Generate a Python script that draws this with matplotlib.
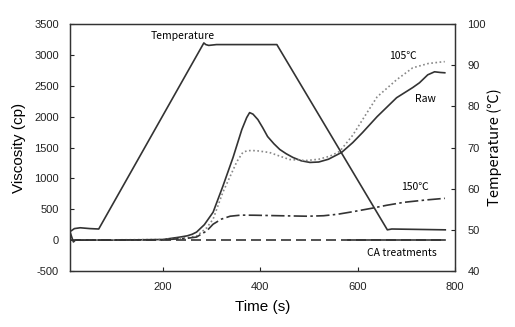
import numpy as np
import matplotlib
matplotlib.use("Agg")
import matplotlib.pyplot as plt

plt.rcParams['axes.unicode_minus'] = False

# values
temp_t = [12, 18, 30, 50, 68, 284, 288, 294, 310, 360, 434, 661, 670, 780]
temp_c = [49.8, 50.3, 50.5, 50.3, 50.2, 95.4, 95.0, 94.8, 95.0, 95.0, 95.0, 50.0, 50.2, 50.0]

raw_t = [10, 13, 16, 20, 100, 200, 234, 250, 260, 269, 285, 303, 323, 344, 362,
         372, 378, 385, 395, 405, 415, 428, 440, 453, 467, 484, 502, 520, 540,
         567, 590, 610, 640, 680, 713, 727, 744, 758, 770, 779]
raw_v = [110, 40, -30, 0, 0, 10, 48, 70, 95, 130, 250, 452, 871, 1339, 1790,
         1984, 2065, 2040, 1952, 1820, 1677, 1560, 1468, 1400, 1339, 1285, 1258, 1265, 1310,
         1420, 1580, 1742, 2000, 2306, 2470, 2548, 2677, 2726, 2715, 2710]

t105_t = [20, 200, 240, 269, 290, 303, 323, 338, 352, 364, 372, 382, 395, 419,
          440, 460, 480, 496, 520, 543, 563, 590, 610, 640, 680, 713, 745, 775, 779]
t105_v = [0, 10, 30, 65, 200, 340, 774, 1032, 1274, 1419, 1445, 1452, 1445, 1419,
          1360, 1306, 1295, 1290, 1310, 1360, 1436, 1700, 1950, 2320, 2597, 2790, 2860, 2888, 2890]

t150_t = [20, 200, 250, 269, 290, 303, 320, 338, 360, 389, 440, 497, 530, 559,
          590, 629, 660, 696, 740, 779]
t150_v = [0, 5, 30, 50, 150, 258, 340, 387, 405, 403, 395, 387, 395, 419,
          460, 516, 565, 613, 650, 677]

ca_t = [12, 780]
ca_v = [0, 0]
ca2_t = [580, 780]
ca2_v = [-5, -5]

line_col = "#333333"
lab_font = ["Noto Sans CJK KR", "DejaVu Sans"]

fig = plt.figure(figsize=(5.15, 3.27), dpi=100)
ax = fig.add_axes([70/515, 1-271/327, 385/515, 247/327])
ax2 = ax.twinx()

ax.plot(raw_t, raw_v, color=line_col, lw=1.2)
ax.plot(t105_t, t105_v, color="#888888", lw=1.2, linestyle=(0, (1, 1.5)))
ax.plot(t150_t, t150_v, color=line_col, lw=1.2, linestyle=(0, (8, 2, 1.5, 2)))
ax.plot(ca_t, ca_v, color=line_col, lw=1.2, linestyle=(0, (6, 3)))
ax.plot(ca2_t, ca2_v, color=line_col, lw=1.2)
ax2.plot(temp_t, temp_c, color=line_col, lw=1.2)

ax.set_xlim(9, 800)
ax.set_ylim(-500, 3500)
ax2.set_ylim(40, 100)
ax.set_xticks([200, 400, 600, 800])
ax.set_yticks(np.arange(-500, 3501, 500))
ax2.set_yticks(np.arange(40, 101, 10))

for a in (ax, ax2):
    a.tick_params(direction="in", length=3, width=0.8, labelsize=8, colors="#222222")
    for lab in a.get_xticklabels() + a.get_yticklabels():
        lab.set_family("Liberation Sans")
    for s in a.spines.values():
        s.set_color("#333333")
        s.set_linewidth(0.9)
ax.tick_params(axis="x", pad=8)
ax.tick_params(axis="y", pad=8)
ax2.tick_params(axis="y", pad=9)

ax.set_xlabel("Time (s)", family="Liberation Sans", fontsize=11, labelpad=6)
ax.set_ylabel("Viscosity (cp)", family="Liberation Sans", fontsize=11, labelpad=6)
ax2.set_ylabel("Temperature (℃)", family=lab_font, fontsize=10.5, labelpad=1)

ax.text(240, 3310, "Temperature", family=lab_font, fontsize=7.5, ha="center", va="center")
ax.text(693, 2980, "105℃", family=lab_font, fontsize=7.5, ha="center", va="center")
ax.text(740, 2280, "Raw", family=lab_font, fontsize=7.5, ha="center", va="center")
ax.text(718, 860, "150℃", family=lab_font, fontsize=7.5, ha="center", va="center")
ax.text(690, -210, "CA treatments", family=lab_font, fontsize=7.5, ha="center", va="center")

fig.savefig("out.png", dpi=100)
